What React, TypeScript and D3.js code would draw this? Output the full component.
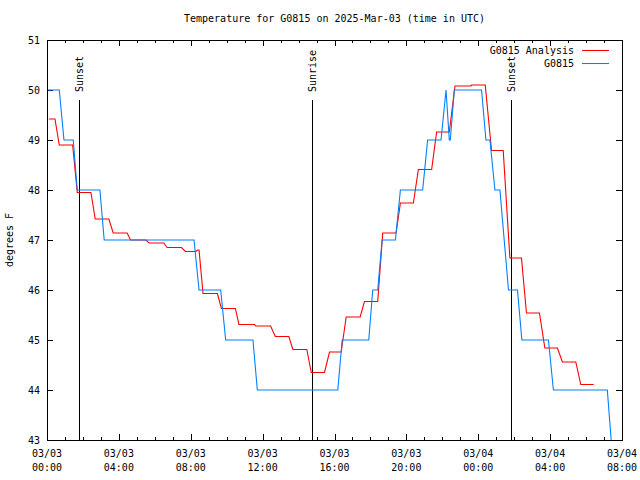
import React from "react";
import * as d3 from "d3";

// Hours after 2025-03-03 00:00 UTC, and temperatures (°F)
const analysisHours = [0.1, 0.444, 0.683, 1.428, 1.683, 2.444, 2.683, 3.444, 3.683, 4.461, 4.65, 5.5, 5.683, 6.5, 6.683, 7.483, 7.706, 8.278, 8.389, 8.461, 8.683, 9.483, 9.706, 10.483, 10.683, 11.556, 11.611, 12.444, 12.706, 13.461, 13.683, 14.461, 14.706, 15.444, 15.722, 16.372, 16.65, 17.428, 17.667, 18.406, 18.683, 19.428, 19.667, 20.389, 20.667, 21.406, 21.683, 22.389, 22.706, 23.594, 23.611, 24.389, 24.739, 25.389, 25.761, 26.406, 26.683, 27.406, 27.706, 28.406, 28.683, 29.428, 29.706, 30.428];
const analysisValues = [49.42, 49.42, 48.9, 48.9, 47.95, 47.95, 47.42, 47.42, 47.14, 47.14, 47.0, 47.0, 46.94, 46.94, 46.85, 46.85, 46.77, 46.77, 46.8, 46.8, 45.93, 45.93, 45.63, 45.63, 45.31, 45.31, 45.28, 45.28, 45.07, 45.07, 44.81, 44.81, 44.35, 44.35, 44.76, 44.76, 45.46, 45.46, 45.77, 45.77, 47.14, 47.14, 47.74, 47.74, 48.41, 48.41, 49.16, 49.16, 50.08, 50.08, 50.1, 50.1, 48.79, 48.79, 46.64, 46.64, 45.54, 45.54, 44.84, 44.84, 44.56, 44.56, 44.11, 44.11];

const obsHours = [0.0, 0.683, 0.944, 1.461, 1.683, 2.944, 3.183, 8.183, 8.461, 9.667, 9.944, 11.461, 11.706, 16.183, 16.428, 17.906, 18.128, 18.406, 18.65, 19.389, 19.667, 20.906, 21.183, 21.928, 22.206, 22.389, 22.444, 22.667, 24.183, 24.428, 24.65, 24.928, 25.206, 25.683, 26.183, 26.428, 27.906, 28.183, 31.183, 31.44];
const obsValues = [50, 50, 49, 49, 48, 48, 47, 47, 46, 46, 45, 45, 44, 44, 45, 45, 46, 46, 47, 47, 48, 48, 49, 49, 50, 49, 49, 50, 50, 49, 49, 48, 48, 46, 46, 45, 45, 44, 44, 42.8];

const sunEventHours = [1.8, 14.77, 25.83];
const sunEventLabels = ["Sunset", "Sunrise", "Sunset"];

const yTicks = [43, 44, 45, 46, 47, 48, 49, 50, 51];
const titleText = "Temperature for G0815 on 2025-Mar-03 (time in UTC)";
const yLabel = "degrees F";
const seriesNames = ["G0815 Analysis", "G0815"];
const seriesColors = ["#ff0000", "#0080ff"];

const W = 640, H = 480;
const L = 47, R = 622, T = 40, B = 440;
const FONT = "'DejaVu Sans Mono', monospace";

const t0 = Date.UTC(2025, 2, 3, 0, 0);
const toDate = (h: number) => new Date(t0 + h * 3600 * 1000);

export default function App() {
  const x = d3.scaleUtc().domain([toDate(0), toDate(32)]).range([L, R]);
  const y = d3.scaleLinear().domain([43, 51]).range([B, T]);

  const line = d3
    .line<[number, number]>()
    .x((d) => x(toDate(d[0])))
    .y((d) => y(d[1]));

  const analysis = analysisHours.map((h, i) => [h, analysisValues[i]] as [number, number]);
  const obs = obsHours.map((h, i) => [h, obsValues[i]] as [number, number]);

  const hourTicks = x.ticks(d3.utcHour.every(1)!);
  const fmtDate = d3.utcFormat("%m/%d");
  const fmtTime = d3.utcFormat("%H:%M");

  return (
    <svg width={W} height={H} style={{ display: "block", position: "absolute", left: 0, top: 0, background: "#fff" }} fontFamily={FONT} fontSize={10}>
      <rect x={0} y={0} width={W} height={H} fill="#fff" />
      <defs>
        <clipPath id="plotclip">
          <rect x={L} y={T} width={R - L} height={B - T} />
        </clipPath>
      </defs>
      <text x={(L + R) / 2} y={22} textAnchor="middle" fill="#000">{titleText}</text>

      {/* x ticks */}
      {hourTicks.map((d, i) => {
        const major = d.getUTCHours() % 4 === 0;
        const len = major ? 6 : 3;
        const xx = Math.round(x(d)) + 0.5;
        return (
          <g key={i} shapeRendering="crispEdges">
            <line x1={xx} x2={xx} y1={B} y2={B - len} stroke="#000" />
            <line x1={xx} x2={xx} y1={T} y2={T + len} stroke="#000" />
            {major && (
              <text x={x(d)} y={457} textAnchor="middle" fill="#000">{fmtDate(d)}</text>
            )}
            {major && (
              <text x={x(d)} y={471} textAnchor="middle" fill="#000">{fmtTime(d)}</text>
            )}
          </g>
        );
      })}

      {/* y ticks */}
      {yTicks.map((v) => {
        const yy = Math.round(y(v)) + 0.5;
        return (
          <g key={v} shapeRendering="crispEdges">
            <line x1={L} x2={L + 6} y1={yy} y2={yy} stroke="#000" />
            <line x1={R} x2={R - 6} y1={yy} y2={yy} stroke="#000" />
            <text x={40} y={y(v)} dy="0.35em" textAnchor="end" fill="#000">{v}</text>
          </g>
        );
      })}

      <text transform={`translate(13,240) rotate(-90)`} textAnchor="middle" fill="#000">{yLabel}</text>

      {/* sun events */}
      {sunEventHours.map((h, i) => {
        const xx = Math.round(x(toDate(h))) + 0.5;
        return (
          <g key={i}>
            <line x1={xx} x2={xx} y1={B} y2={99.5} stroke="#000" shapeRendering="crispEdges" />
            <text transform={`translate(${xx},92) rotate(-90)`} dy="0.35em" textAnchor="start" fill="#000">
              {sunEventLabels[i]}
            </text>
          </g>
        );
      })}

      <g clipPath="url(#plotclip)">
        <path d={line(analysis) || ""} fill="none" stroke={seriesColors[0]} strokeWidth={1.1} />
        <path d={line(obs) || ""} fill="none" stroke={seriesColors[1]} strokeWidth={1.1} />
      </g>

      {/* legend */}
      {seriesNames.map((n, i) => {
        const yy = 50 + i * 13;
        return (
          <g key={n}>
            <text x={574} y={yy} dy="0.35em" textAnchor="end" fill="#000">{n}</text>
            <line x1={582} x2={609} y1={yy + 0.5} y2={yy + 0.5} stroke={seriesColors[i]} strokeWidth={1.1} />
          </g>
        );
      })}

      <rect x={L + 0.5} y={T + 0.5} width={R - L} height={B - T} fill="none" stroke="#000" shapeRendering="crispEdges" />
    </svg>
  );
}
